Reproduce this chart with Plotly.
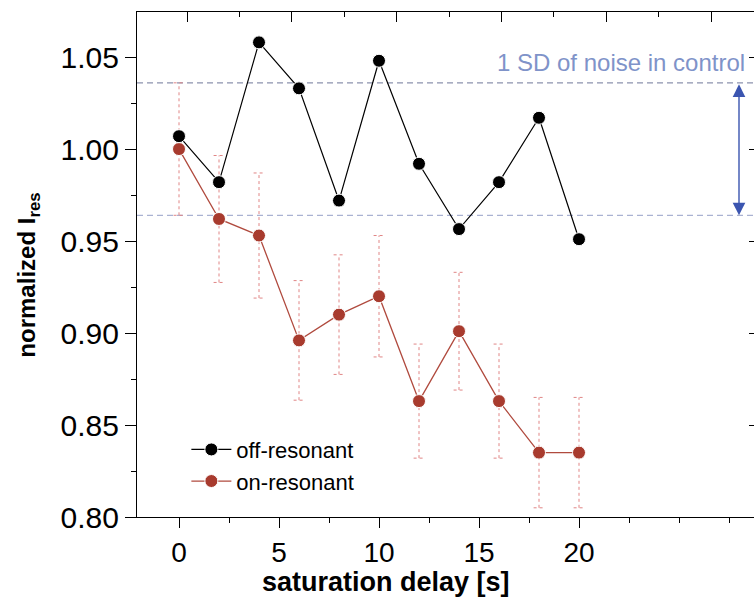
import plotly.graph_objects as go

# ---- data ----
delay = [0, 2, 4, 6, 8, 10, 12, 14, 16, 18, 20]
off_res = [1.007, 0.982, 1.058, 1.033, 0.972, 1.048, 0.992, 0.9565, 0.982, 1.017, 0.951]
on_res = [1.000, 0.962, 0.953, 0.896, 0.910, 0.920, 0.863, 0.901, 0.863, 0.835, 0.835]
on_err = [0.036, 0.0345, 0.034, 0.0325, 0.0325, 0.033, 0.031, 0.032, 0.031, 0.030, 0.030]
sd_band = [0.964, 1.036]
sd_label = "1 SD of noise in control"
x_ticks = [0, 5, 10, 15, 20]
y_ticks = [0.80, 0.85, 0.90, 0.95, 1.00, 1.05]

FONT = "Liberation Sans, Arial, sans-serif"
RED = "#a83b2e"
ERR = "#e08585"

fig = go.Figure()

# dotted error bars (built from the data arrays)
ex, ey, cx, cy = [], [], [], []
cap = 0.27
for xi, yi, ei in zip(delay, on_res, on_err):
    ex += [xi, xi, None]
    ey += [yi - ei, yi + ei, None]
    for yy in (yi - ei, yi + ei):
        cx += [xi - cap, xi + cap, None]
        cy += [yy, yy, None]
fig.add_trace(go.Scatter(x=ex, y=ey, mode="lines", showlegend=False, hoverinfo="skip",
                         line=dict(color=ERR, width=1, dash="dot")))
fig.add_trace(go.Scatter(x=cx, y=cy, mode="lines", showlegend=False, hoverinfo="skip",
                         line=dict(color=ERR, width=1, dash="dot")))

fig.add_trace(go.Scatter(
    x=delay, y=on_res, mode="lines+markers", name="on-resonant",
    line=dict(color="#b04a3e", width=1.3),
    marker=dict(color=RED, size=13, line=dict(color="white", width=1)),
))
fig.add_trace(go.Scatter(
    x=delay, y=off_res, mode="lines+markers", name="off-resonant",
    line=dict(color="black", width=1.2),
    marker=dict(color="black", size=13, line=dict(color="white", width=1)),
))

# dashed SD lines
fig.add_shape(type="line", xref="paper", yref="y", x0=0, x1=1, y0=sd_band[1], y1=sd_band[1],
              line=dict(color="#8c92ad", width=1.2, dash="6px,4px"), layer="below")
fig.add_shape(type="line", xref="paper", yref="y", x0=0, x1=1, y0=sd_band[0], y1=sd_band[0],
              line=dict(color="#aab2d2", width=1.2, dash="6px,4px"), layer="below")

# double-headed arrow
fig.add_annotation(x=28, y=sd_band[0], ax=28, ay=sd_band[1], xref="x", yref="y",
                   axref="x", ayref="y", text="", showarrow=True,
                   arrowhead=2, startarrowhead=2, arrowside="end+start",
                   arrowsize=1.8, startarrowsize=1.8, arrowwidth=1.4, arrowcolor="#3b55b0")
fig.add_annotation(x=0.988, y=1.0385, xref="paper", yref="y", xanchor="right", yanchor="bottom",
                   text=sd_label, showarrow=False,
                   font=dict(family=FONT, size=24, color="#7f93c9"))

# axis titles
fig.add_annotation(x=0.4036, y=-0.128, xref="paper", yref="paper", xanchor="center",
                   yanchor="middle", showarrow=False,
                   text="<b>saturation delay [s]</b>", font=dict(family=FONT, size=27))
fig.add_annotation(x=-0.175, y=0.478, xref="paper", yref="paper", xanchor="center",
                   yanchor="middle", showarrow=False, textangle=-90,
                   text="<b>normalized I<sub>res</sub></b>", font=dict(family=FONT, size=24))

fig.update_layout(
    width=754, height=606,
    margin=dict(l=137, r=0, t=12, b=89),
    paper_bgcolor="white", plot_bgcolor="white",
    font=dict(family=FONT, color="black"),
    showlegend=True,
    legend=dict(x=0.08, y=0.175, xanchor="left", yanchor="top",
                traceorder="reversed", font=dict(family=FONT, size=22),
                bgcolor="rgba(0,0,0,0)", itemwidth=40, tracegroupgap=0),
    xaxis=dict(range=[-2.1, 28.75], tickvals=x_ticks, ticks="outside", ticklen=10,
               tickwidth=1, tickcolor="black", showline=True, linecolor="black",
               linewidth=1.3, showgrid=False, zeroline=False,
               tickfont=dict(size=28, family=FONT),
               minor=dict(dtick=2.5, tick0=0, ticks="outside", ticklen=5, tickcolor="black")),
    yaxis=dict(range=[0.80, 1.0745], tickvals=y_ticks, tickformat=".2f", ticks="outside",
               ticklen=11, tickwidth=1, tickcolor="black", showline=True, linecolor="black",
               linewidth=1.3, showgrid=False, zeroline=False,
               tickfont=dict(size=30, family=FONT),
               minor=dict(dtick=0.025, tick0=0.8, ticks="outside", ticklen=5, tickcolor="black")),
    xaxis2=dict(overlaying="x", side="top", range=[-0.478, 5.41], dtick=1, tick0=0,
                ticks="inside", ticklen=10, tickcolor="black", showticklabels=False,
                showline=True, linecolor="black", linewidth=1.3, showgrid=False, zeroline=False,
                minor=dict(dtick=0.5, ticks="inside", ticklen=5, tickcolor="black")),
    yaxis2=dict(overlaying="y", side="right", range=[0.80, 1.0745], tickvals=y_ticks,
                ticks="inside", ticklen=5, tickcolor="black", showticklabels=False,
                showline=True, linecolor="black", linewidth=1.3, showgrid=False, zeroline=False),
)
# invisible trace to activate secondary axes
fig.add_trace(go.Scatter(x=[None], y=[None], xaxis="x2", yaxis="y2", showlegend=False,
                         hoverinfo="skip"))

fig.write_html("out.html")
